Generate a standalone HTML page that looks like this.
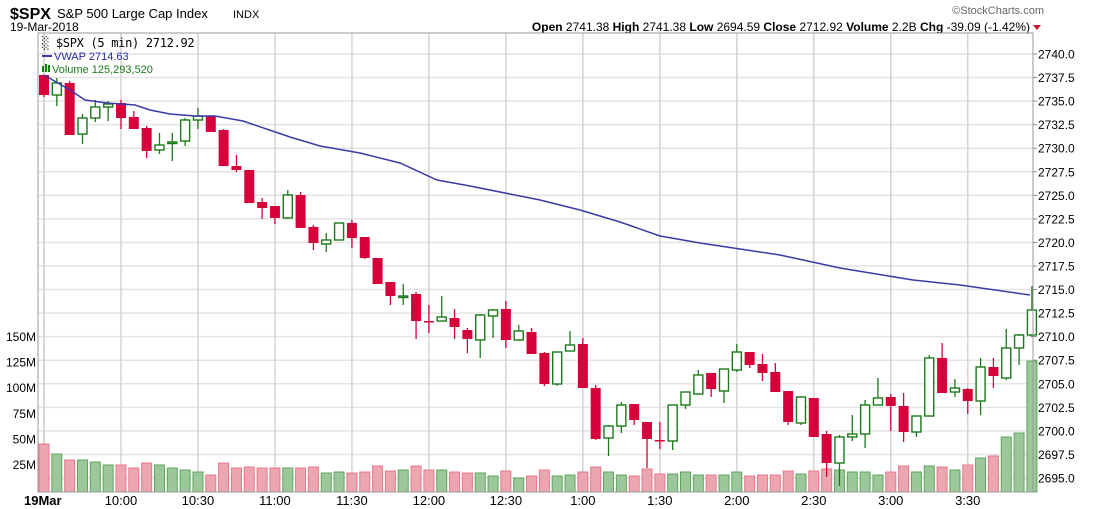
<!DOCTYPE html>
<html><head><meta charset="utf-8"><style>
body{margin:0;background:#fff;width:1097px;height:509px;overflow:hidden;font-family:"Liberation Sans",sans-serif}
svg{position:absolute;left:0;top:0}
</style></head><body>
<svg id="s" width="1097" height="509" xmlns="http://www.w3.org/2000/svg" font-family="Liberation Sans, sans-serif">
<text x="10" y="19" font-size="16" font-weight="bold" fill="#000">$SPX</text>
<text x="57" y="18" font-size="13" fill="#000">S&amp;P 500 Large Cap Index</text>
<text x="233" y="18" font-size="11" fill="#000">INDX</text>
<text x="10" y="31" font-size="12" fill="#000">19-Mar-2018</text>
<text x="1044" y="14" font-size="11" fill="#666" text-anchor="end">©StockCharts.com</text>
<text x="1030" y="31" font-size="12" fill="#000" text-anchor="end"><tspan font-weight="bold">Open</tspan> 2741.38  <tspan font-weight="bold">High</tspan> 2741.38  <tspan font-weight="bold">Low</tspan> 2694.59  <tspan font-weight="bold">Close</tspan> 2712.92  <tspan font-weight="bold">Volume</tspan> 2.2B  <tspan font-weight="bold">Chg</tspan> -39.09 (-1.42%)</text>
<polygon points="1033,25 1041,25 1037,30" fill="#c8102e"/>
<g id="g"></g>
</svg>
<script>
var g=document.getElementById('g'),h='';
var L=38,R=1033,T=33,B=492;
for(var i=0;i<=18;i++){var y=54+i*23.556;h+='<line x1="'+L+'" x2="'+R+'" y1="'+y+'" y2="'+y+'" stroke="#e4e4e4" stroke-width="1.5"/>';
 h+='<line x1="'+R+'" x2="'+(R+4)+'" y1="'+y+'" y2="'+y+'" stroke="#888"/>';
 h+='<text x="'+(R+5)+'" y="'+(y+4.5)+'" font-size="12" fill="#000">'+(2740-i*2.5).toFixed(1)+'</text>';}
var vl=['25M','50M','75M','100M','125M','150M'];
for(var i=0;i<6;i++){var y=465-i*25.6;h+='<text x="36" y="'+(y+4)+'" font-size="12" fill="#000" text-anchor="end">'+vl[i]+'</text>';}
var tl=['10:00','10:30','11:00','11:30','12:00','12:30','1:00','1:30','2:00','2:30','3:00','3:30'];
function X(i){return 44+i*12.83;}
h+='<line x1="44" x2="44" y1="'+T+'" y2="'+B+'" stroke="#ccc" stroke-width="1.5"/>';
for(var k=0;k<12;k++){var x=X(6+6*k);h+='<line x1="'+x+'" x2="'+x+'" y1="'+T+'" y2="'+B+'" stroke="#d4d4d4" stroke-width="1.5"/>';
 h+='<text x="'+x+'" y="505" font-size="13" fill="#000" text-anchor="middle">'+tl[k]+'</text>';}
h+='<text x="24" y="505" font-size="13" font-weight="bold" fill="#000">19Mar</text>';
var C=[[75,95,75,97,0],[83,95,78,106,1],[83,135,81,135,0],[118,134,114,144,1],[107,118,100,122,1],[104,107,101,121,1],[103,118,100,129,0],[117,129,111,129,0],[128,151,126,158,0],[145,150,133,154,1],
[142,143,133,161,1],[120,141,118,146,1],[116,120,108,129,1],[116,132,116,132,0],[130,166,129,166,0],[166,170,155,172,0],[170,203,170,203,0],[202,208,198,219,0],[206,218,206,224,0],[195,218,190,219,1],
[195,228,192,228,0],[227,243,225,250,0],[240,244,233,252,1],[223,240,223,240,1],[223,238,220,248,0],[237,258,237,259,0],[258,284,258,284,0],[282,296,282,305,0],[296,297,284,305,1],[294,321,292,339,0],
[321,322,305,333,0],[317,321,296,321,1],[318,327,309,339,0],[330,339,328,353,0],[315,340,314,358,1],[310,316,309,338,1],[309,340,301,348,0],[331,340,325,340,1],[332,354,328,354,0],[353,384,352,386,0],
[352,384,352,386,1],[345,351,331,351,1],[344,388,338,388,0],[388,439,385,440,0],[426,438,425,456,1],[405,426,402,433,1],[404,420,404,425,0],[422,439,422,468,0],[440,441,422,449,0],[405,441,405,450,1],
[392,405,392,409,1],[375,394,370,394,1],[373,389,373,397,0],[369,391,369,403,1],[352,370,344,372,1],[352,365,352,368,0],[364,373,354,381,0],[372,392,363,392,0],[391,422,391,425,0],[397,423,396,425,1],
[398,437,398,437,0],[434,463,431,477,0],[437,463,435,486,1],[434,437,415,441,1],[405,434,400,448,1],[398,405,378,405,1],[397,406,394,431,0],[406,432,393,442,0],[416,432,416,437,1],[358,416,355,416,1],
[358,393,343,393,0],[388,392,379,397,1],[389,401,388,414,0],[367,401,358,415,1],[367,376,358,388,0],[348,378,329,380,1],[335,348,334,365,1],[310,335,286,337,1]];
var V=[444,454,460,460,462,465,465,468,463,465,468,470,472,475,463,468,467,468,468,468,468,467,473,472,473,472,466,471,470,466,470,470,472,473,473,476,471,478,476,470,
476,475,472,467,472,475,476,469,474,474,472,475,475,475,472,476,475,475,471,474,471,469,470,472,472,475,472,466,472,466,467,470,465,458,456,437,433,361];
for(var i=0;i<78;i++){var x=X(i),c=C[i],gr=c[4];
 h+='<rect x="'+(x-5)+'" y="'+V[i]+'" width="10" height="'+(B-V[i])+'" fill="'+(gr?'#9cc79a':'#eba6b0')+'" stroke="'+(gr?'#5ea65b':'#e8788c')+'" stroke-width="1"/>';}
for(var i=0;i<78;i++){var x=X(i),c=C[i],gr=c[4],col=gr?'#1a7a1a':'#d6003a';
 h+='<line x1="'+x+'" x2="'+x+'" y1="'+c[2]+'" y2="'+c[3]+'" stroke="'+col+'" stroke-width="1.3"/>';
 var bh=Math.max(c[1]-c[0],1.5);
 if(gr)h+='<rect x="'+(x-4.5)+'" y="'+c[0]+'" width="9" height="'+bh+'" fill="#fff" stroke="'+col+'" stroke-width="1.4"/>';
 else h+='<rect x="'+(x-5)+'" y="'+c[0]+'" width="10" height="'+bh+'" fill="'+col+'"/>';}
h+='<polyline fill="none" stroke="#3a3aa8" stroke-width="1.5" points="44,75 70,90 85,100 107,103 135,105 150,110 170,114 195,116 215,116 243,121 290,137 320,146 360,153 400,163 437,180 470,186 540,200 580,210 620,222 660,236 700,243 740,249 780,255 840,268 913,280 960,285 1030,295"/>';
h+='<rect x="'+L+'" y="'+T+'" width="'+(R-L)+'" height="'+(B-T)+'" fill="none" stroke="#999" stroke-width="1"/>';
h+='<text x="42" y="47" font-size="12" fill="#000" font-family="DejaVu Sans Mono, monospace" letter-spacing="-0.3">&#x2591; $SPX (5 min) 2712.92</text>';
h+='<line x1="42" x2="52" y1="56" y2="56" stroke="#3a3aa8" stroke-width="2"/><text x="54" y="60" font-size="11" fill="#2a2aa0">VWAP 2714.63</text>';
h+='<rect x="42" y="66" width="2" height="6" fill="#1a7a1a"/><rect x="45" y="64" width="2" height="8" fill="#1a7a1a"/><rect x="48" y="65" width="2" height="7" fill="#1a7a1a"/>';
h+='<text x="52" y="73" font-size="11" fill="#1a7a1a">Volume 125,293,520</text>';
g.innerHTML=h;
</script>
</body></html>
